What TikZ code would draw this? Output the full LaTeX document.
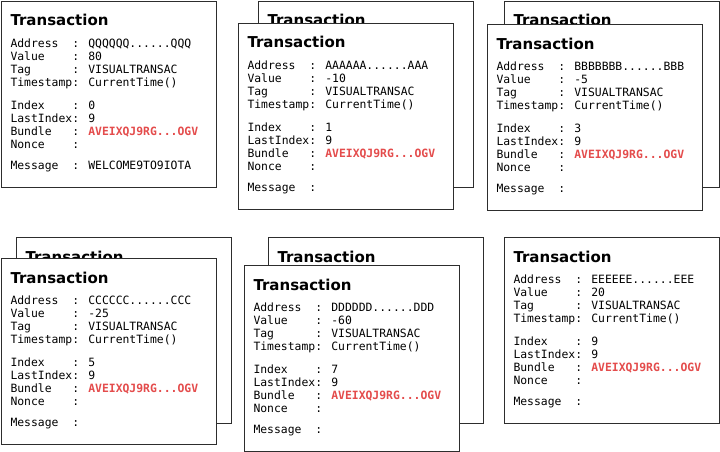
\documentclass[tikz,border=0pt]{standalone}
\usepackage{fontspec}
\usepackage{xcolor}
\usepackage{tikz}
\usetikzlibrary{matrix}
\newfontfamily\txmono{DejaVu Sans Mono}
\newfontfamily\txsans{DejaVu Sans}
\definecolor{bundlered}{RGB}{228,76,76}
\definecolor{boxline}{RGB}{45,45,45}
\tikzset{
txbox/.style={
  rectangle,
  draw=boxline,
  line width=1.3pt,
  fill=white,
  minimum width=215pt,
  minimum height=186pt,
  anchor=north west,
  inner sep=0pt
},
txtitle/.style={anchor=base west,inner sep=0pt,font=\txsans\bfseries\fontsize{15}{18}\selectfont},
txfields/.style={
  matrix of nodes,
  ampersand replacement=\&,
  anchor=north west,
  inner sep=0pt,
  row sep=0pt,
  column sep=0pt,
  nodes={inner sep=0pt,anchor=base west,text height=9.5pt,text depth=3.5pt,
    font=\txmono\fontsize{11.4}{13}\selectfont},
  column 1/.style={nodes={text width=61.8pt}}
},
}

\begin{document}
\begin{tikzpicture}[x=1pt,y=-1pt]
\useasboundingbox (0,0) rectangle (720,452);
% the boxes behind
\foreach \n/\x/\y in {2/258/1, 4/504/1, 6/16/237, 8/268/237}
{
  \node[txbox] (tx\n) at (\x,\y) {};
  \node[txtitle] (title\n) at ([xshift=9.3pt,yshift=-25pt]tx\n.north west) {Transaction};
}
% the boxes in front
\foreach \n/\x/\y/\addr/\val/\msg in {
  0/1/1/{QQQQQQ......QQQ}/80/{WELCOME9TO9IOTA},
  1/238/23/{AAAAAA......AAA}/-10/{},
  3/487/24/{BBBBBBB......BBB}/-5/{},
  5/1/258/{CCCCCC......CCC}/-25/{},
  7/244/265/{DDDDDD......DDD}/-60/{},
  9/504/237/{EEEEEE......EEE}/20/{}}
{
  \node[txbox] (tx\n) at (\x,\y) {};
  \node[txtitle] (title\n) at ([xshift=9.3pt,yshift=-25pt]tx\n.north west) {Transaction};
  \matrix[txfields] (body\n) at ([xshift=9.3pt,yshift=-37pt]tx\n.north west)
  {
  Address   \& : \addr \\
  Value     \& : \val \\
  Tag       \& : VISUALTRANSAC \\
  Timestamp \& : CurrentTime() \\[9.5pt]
  Index     \& : \n \\
  LastIndex \& : 9 \\
  Bundle    \& : {\color{bundlered}\bfseries AVEIXQJ9RG...OGV} \\
  Nonce     \& : \\[8pt]
  Message   \& : \msg \\
  };
}
\end{tikzpicture}
\end{document}
